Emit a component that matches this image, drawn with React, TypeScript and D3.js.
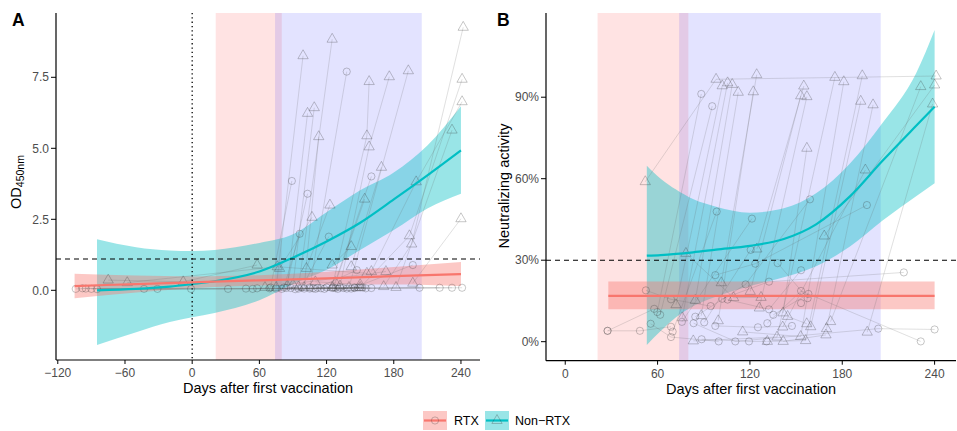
import React from "react";
import * as d3 from "d3";

// axis ticks
const daysTicksA = [-120, -60, 0, 60, 120, 180, 240];
const odTicks = [0, 2.5, 5, 7.5];
const daysTicksB = [0, 60, 120, 180, 240];
const naTicks = [0, 30, 60, 90];

const odCutoff = 1.1;
const naCutoff = 30;
// shaded windows (days)
const windowRtx = [21, 80];
const windowNonRtx = [74, 205];

// patient trajectories [day, value]
const rtxA = [
  [[-104, 0.05], [-95, 0.06], [-31, 0.05], [48, 0.06], [150, 0.1]],
  [[-98, 0.07], [-43, 0.05], [32, 0.05], [105, 0.06], [160, 0.08]],
  [[-90, 0.05], [-1, 0.05], [69, 0.07], [128, 0.08]],
  [[-85, 0.04], [54, 0.05], [95, 0.06], [203, 0.09]],
  [[58, 0.07], [115, 0.07], [221, 0.09]],
  [[75, 0.06], [135, 0.08], [232, 0.09]],
  [[80, 0.05], [142, 0.06], [241, 0.09]],
  [[88, 0.08], [118, 0.05], [152, 0.1]],
  [[92, 0.04], [125, 0.08], [148, 0.1]],
  [[100, 0.06], [132, 0.1], [155, 0.07]],
  [[108, 0.07], [120, 0.1], [138, 0.06]],
  [[112, 0.09], [130, 0.05], [145, 0.08]],
  [[105, 0.1], [138, 7.7]],
  [[70, 0.1], [89, 3.85]],
  [[84, 0.08], [103, 3.4]],
  [[126, 0.1], [160, 4.01]],
  [[82, 0.1], [96, 1.99]],
  [[98, 0.1], [122, 1.89]],
  [[145, 0.1], [197, 0.89]],
  [[110, 0.05], [147, 0.71]],
];

const nonRtxA = [
  [[75, 0.1], [99, 8.26]],
  [[95, 0.12], [125, 8.84]],
  [[85, 0.15], [103, 6.23]],
  [[90, 0.2], [109, 6.43]],
  [[100, 0.1], [113, 5.41]],
  [[125, 0.1], [156, 5.44], [158, 7.35]],
  [[132, 0.15], [158, 5.05], [176, 7.52]],
  [[140, 0.1], [193, 7.73]],
  [[171, 0.13], [196, 1.63], [242, 9.26]],
  [[150, 0.1], [194, 1.92], [241, 7.43]],
  [[160, 0.66], [200, 3.82], [241, 6.64]],
  [[182, 0.1], [232, 5.64]],
  [[197, 0.25], [240, 2.52]],
  [[78, 0.77], [107, 2.57]],
  [[102, 0.77], [123, 3.0]],
  [[125, 0.89], [142, 1.54]],
  [[128, 0.27], [154, 3.21]],
  [[142, 0.83], [169, 4.33]],
  [[-75, 0.36], [-8, 0.3], [58, 0.89]],
  [[-58, 0.27], [76, 0.83], [156, 0.6]],
  [[65, 0.1], [173, 0.66]],
  [[110, 0.3], [150, 0.2]],
];

const rtxB = [
  [[27.5, 4.0], [48.5, 4.0], [68.7, 5.5]],
  [[27.5, 4.0], [57.8, 12.1]],
  [[52.4, 18.9], [68.7, 15.6], [94.5, 13.1]],
  [[55.5, 6.6], [68.7, 1.7], [99.7, 0.1]],
  [[59.8, 10.9], [88.4, 91.2]],
  [[61.7, 9.9], [95.5, 86.7]],
  [[69.8, 3.7], [98.4, 47.9]],
  [[75.8, 7.3], [121.3, 45.3]],
  [[83.4, 6.8], [110.5, 0.1], [203.4, 4.8], [240, 4.5]],
  [[84.5, 9.2], [117.2, 21.1], [159, 52.4]],
  [[90.3, 7.1], [120.5, 33.8]],
  [[88.6, 0.9], [119.4, 0.1], [130.8, 0.1]],
  [[97.5, 24.5], [123.5, 28.7], [196, 50.3]],
  [[97.5, 5.8], [125.2, 5.3], [147.3, 5.8]],
  [[102, 15.8], [132.4, 22.1], [220, 25.5]],
  [[105.5, 15.5], [132.4, 11.9], [153.2, 26.3]],
  [[131.3, 6.8], [153.2, 18.7], [231, 0.1]],
  [[135.2, 9.9], [158, 17.6]],
  [[138, 28.9], [157.5, 16]],
  [[153.2, 14.2]],
];

const nonRtxB = [
  [[52, 58.9], [98, 96.6], [241, 97.8]],
  [[72, 13.6], [102, 94.2]],
  [[76, 8.8], [105.5, 95.3]],
  [[84.5, 15.2], [108.5, 94.7]],
  [[88.4, 9.6], [112.4, 91.8]],
  [[99.4, 7.7], [122.2, 92]],
  [[101.4, 21.7], [124.4, 98.3]],
  [[120.2, 18.5], [153, 90.5]],
  [[124.5, 34.1], [155, 94.1]],
  [[126.1, 12.4], [157, 90.2]],
  [[141.5, 10.6], [157, 71.2]],
  [[83.2, 0.3], [137.6, 1.7], [175.2, 97.3]],
  [[115.3, 3.6], [153, 1.9], [181, 95.7]],
  [[131.3, 0.1], [156.2, 0.4], [193, 97.9]],
  [[159.5, 5.5], [192, 88.5]],
  [[169.8, 4.8], [200, 87.2]],
  [[172.4, 7.4], [231, 93.9]],
  [[168.3, 38.9], [240, 94.5]],
  [[196.2, 3.5], [238.7, 87.5]],
  [[141.3, 5.4], [195, 63.2]],
  [[78.4, 32.5], [109.4, 16.2], [127.2, 16.3]],
  [[141.6, 0.1], [169.4, 2.5]],
  [[144.5, 9.3], [156.9, 6.6]],
];

// smooth fits: [day, fit, lower, upper]
const rtxFitA = [
  [-105, 0.15, -0.28, 0.58], [-50, 0.22, -0.08, 0.52], [0, 0.28, 0.07, 0.49],
  [60, 0.35, 0.17, 0.53], [120, 0.42, 0.2, 0.65], [180, 0.5, 0.2, 0.82], [240, 0.57, 0.15, 1.0],
];
const nonRtxFitA = [
  [-85, 0.0, -1.93, 1.8], [-50, 0.05, -1.48, 1.52], [-20, 0.13, -1.12, 1.4], [0, 0.22, -0.95, 1.38],
  [20, 0.32, -0.8, 1.42], [60, 0.66, -0.35, 1.67], [90, 1.15, 0.22, 1.97], [120, 1.72, 0.72, 2.75],
  [150, 2.38, 1.42, 3.52], [180, 3.2, 2.12, 4.15], [210, 4.05, 2.88, 5.1], [240, 4.93, 3.4, 6.48],
];
const rtxFitB = [[28, 16.9, 11.9, 22.2], [240, 16.9, 11.9, 22.2]];
const nonRtxFitB = [
  [53, 31.7, -1.2, 64.8], [62, 31.9, 3.9, 60], [72, 32.3, 9.0, 56], [83, 32.9, 13.0, 52.5],
  [98, 33.9, 16.5, 49.7], [120, 35.3, 20.5, 47.5], [142, 37.8, 23.7, 49.1], [163, 43.2, 27.8, 54.6],
  [185, 53.5, 35, 65.6], [206, 66.5, 44.5, 80.4], [228, 79.5, 53.5, 98.8], [240, 86.5, 58.3, 114.7],
];

const RED = "#F8766D";
const CYAN = "#00BFC4";
const FONT = "'Liberation Sans', Arial, sans-serif";
const triangle = d3.symbol().type(d3.symbolTriangle).size(46)();

function Panel({ x, y, xTicks, yTicks, fmt, rtx, nonRtx, rtxFit, nonRtxFit, cutoff, tag, tagX, yTitle, zeroLine }) {
  const [x0, x1] = x.range();
  const [yb, yt] = y.range();
  const area = d3.area().x((d) => x(d[0])).y0((d) => y(d[2])).y1((d) => y(d[3])).curve(d3.curveMonotoneX);
  const fitLine = d3.line().x((d) => x(d[0])).y((d) => y(d[1])).curve(d3.curveMonotoneX);
  const path = d3.line().x((d) => x(d[0])).y((d) => y(d[1]));
  return (
    <g>
      <rect x={x(windowRtx[0])} y={yt} width={x(windowRtx[1]) - x(windowRtx[0])} height={yb - yt} fill="#ff0000" opacity={0.11} />
      <rect x={x(windowNonRtx[0])} y={yt} width={x(windowNonRtx[1]) - x(windowNonRtx[0])} height={yb - yt} fill="#0000ff" opacity={0.11} />
      <path d={area(nonRtxFit)} fill={CYAN} opacity={0.4} />
      <path d={area(rtxFit)} fill={RED} opacity={0.4} />
      {[...rtx, ...nonRtx].map((p, i) => (
        <path key={"l" + i} d={path(p)} fill="none" stroke="#666" strokeOpacity={0.25} strokeWidth={0.8} />
      ))}
      {rtx.flat().map((d, i) => (
        <circle key={"c" + i} cx={x(d[0])} cy={y(d[1])} r={3.6} fill="none" stroke="#333" strokeOpacity={0.35} strokeWidth={0.8} />
      ))}
      {nonRtx.flat().map((d, i) => (
        <path key={"t" + i} d={triangle} transform={`translate(${x(d[0])},${y(d[1])})`} fill="none" stroke="#333" strokeOpacity={0.35} strokeWidth={0.8} />
      ))}
      <path d={fitLine(nonRtxFit)} fill="none" stroke={CYAN} strokeWidth={2.2} />
      <path d={fitLine(rtxFit)} fill="none" stroke={RED} strokeWidth={2.2} />
      {zeroLine && <line x1={x(0)} x2={x(0)} y1={yt} y2={yb} stroke="#000" strokeWidth={1.3} strokeDasharray="1.3,3" />}
      <line x1={x0} x2={x1} y1={y(cutoff)} y2={y(cutoff)} stroke="#000" strokeWidth={1.1} strokeDasharray="5,4" />
      {/* axes */}
      <line x1={x0} x2={x0} y1={yt} y2={yb} stroke="#000" strokeWidth={1.2} />
      <line x1={x0} x2={x1} y1={yb} y2={yb} stroke="#000" strokeWidth={1.2} />
      {yTicks.map((t) => (
        <g key={"y" + t}>
          <line x1={x0 - 5} x2={x0} y1={y(t)} y2={y(t)} stroke="#000" strokeWidth={1} />
          <text x={x0 - 7} y={y(t)} dy="0.35em" textAnchor="end" fontSize={12} fill="#4D4D4D">{fmt(t)}</text>
        </g>
      ))}
      {xTicks.map((t) => (
        <g key={"x" + t}>
          <line x1={x(t)} x2={x(t)} y1={yb} y2={yb + 4} stroke="#000" strokeWidth={1} />
          <text x={x(t)} y={yb + 17} textAnchor="middle" fontSize={12} fill="#4D4D4D">{t < 0 ? "\u2212" + Math.abs(t) : t}</text>
        </g>
      ))}
      <text x={(x0 + x1) / 2} y={yb + 33} textAnchor="middle" fontSize={14.5} fill="#000">Days after first vaccination</text>
      {yTitle}
      <text x={tagX} y={26} fontSize={17.5} fontWeight="bold" fill="#000">{tag}</text>
    </g>
  );
}

export default function App() {
  const xA = d3.scaleLinear().domain([-121.6, 257]).range([56, 480]);
  const yA = d3.scaleLinear().domain([-2.454, 9.764]).range([360, 13]);
  const xB = d3.scaleLinear().domain([-12.5, 253.9]).range([546, 956]);
  const yB = d3.scaleLinear().domain([-7, 121]).range([360.7, 13]);
  const cy = 186;
  return (
    <svg width={957} height={431} style={{ position: "absolute", left: 0, top: 0, fontFamily: FONT }}>
      <rect width={957} height={431} fill="#fff" />
      <Panel
        x={xA} y={yA} xTicks={daysTicksA} yTicks={odTicks} fmt={(t) => t.toFixed(1)}
        rtx={rtxA} nonRtx={nonRtxA} rtxFit={rtxFitA} nonRtxFit={nonRtxFitA}
        cutoff={odCutoff} tag="A" tagX={12} zeroLine
        yTitle={
          <text transform={`translate(21,${cy - 4}) rotate(-90)`} textAnchor="middle" fontSize={14.5}>
            OD<tspan fontSize={10.5} dy={3}>450nm</tspan>
          </text>
        }
      />
      <Panel
        x={xB} y={yB} xTicks={daysTicksB} yTicks={naTicks} fmt={(t) => t + "%"}
        rtx={rtxB} nonRtx={nonRtxB} rtxFit={rtxFitB} nonRtxFit={nonRtxFitB}
        cutoff={naCutoff} tag="B" tagX={497} zeroLine={false}
        yTitle={
          <text transform={`translate(509,${cy}) rotate(-90)`} textAnchor="middle" fontSize={14.5}>
            Neutralizing activity
          </text>
        }
      />
      {/* legend */}
      <g>
        <rect x={423} y={411} width={24} height={19} fill={RED} opacity={0.4} />
        <line x1={424} x2={446} y1={420.5} y2={420.5} stroke={RED} strokeWidth={2.2} />
        <circle cx={435} cy={420.5} r={3.6} fill="none" stroke="#333" strokeOpacity={0.35} strokeWidth={0.8} />
        <text x={454} y={425} fontSize={12.5}>RTX</text>
        <rect x={485} y={411} width={24} height={19} fill={CYAN} opacity={0.4} />
        <line x1={486} x2={508} y1={420.5} y2={420.5} stroke={CYAN} strokeWidth={2.2} />
        <path d={triangle} transform="translate(497,420.5)" fill="none" stroke="#333" strokeOpacity={0.35} strokeWidth={0.8} />
        <text x={515} y={425} fontSize={12.5}>Non{"\u2212"}RTX</text>
      </g>
    </svg>
  );
}
